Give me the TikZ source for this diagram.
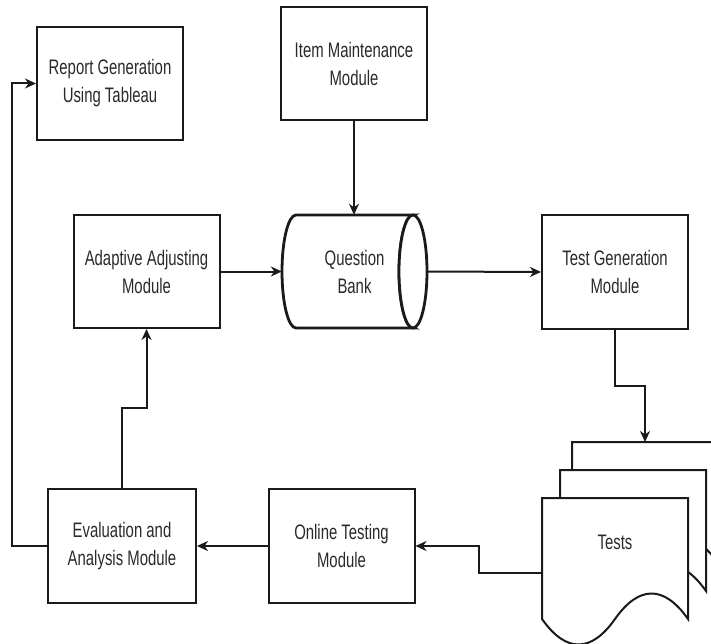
\documentclass[tikz,border=0pt]{standalone}
\usepackage{fontspec}
\setmainfont[FakeStretch=0.71]{Liberation Sans}
\usetikzlibrary{arrows.meta}
\definecolor{txt}{HTML}{2A2A2A}
\definecolor{ln}{HTML}{1A1A1A}
\tikzset{
  box/.style={draw=ln, line width=2pt, fill=white, rectangle, minimum width=146pt, minimum height=113pt,
     align=center, text=txt, font=\fontsize{21}{28}\selectfont},
  arr/.style={draw=ln, line width=2pt, -{Stealth[length=11pt,width=10pt,inset=3.5pt]}},
  docline/.style={draw=ln, line width=2pt, fill=white},
  cyl/.style={draw=ln, line width=2.8pt, fill=white},
  lbl/.style={align=center, text=txt, font=\fontsize{21}{28}\selectfont}
}
\newcommand\docpage[2]{%
  \filldraw[docline] (#1,#2) -- ++(146,0) -- ++(0,121)
    .. controls +(-24,-34) and +(24,-34) .. ++(-73,0)
    .. controls +(-24,34) and +(24,34) .. ++(-73,0) -- cycle;}
\begin{document}
\begin{tikzpicture}[x=1pt,y=-1pt]
\useasboundingbox (0,0) rectangle (711,644);
\clip (0,0) rectangle (711,644);
\fill[white] (0,0) rectangle (711,644);

% boxes
\node[box] (report) at (110,83.5) {Report Generation\\Using Tableau};
\node[box] (item)   at (354,64)   {Item Maintenance\\Module};
\node[box] (adapt)  at (146.5,271.5) {Adaptive Adjusting\\Module};
\node[box] (tg)     at (615,272)  {Test Generation\\Module};
\node[box, minimum width=148pt, minimum height=114pt] (eval) at (122,546) {Evaluation and\\Analysis Module};
\node[box, minimum height=114pt] (online) at (341.5,546) {Online Testing\\Module};

% cylinder (Question Bank)
\filldraw[cyl] (296,215) -- (413,215) arc[start angle=270, end angle=90, x radius=14, y radius=56.5]
   -- (296,328) arc[start angle=90, end angle=270, x radius=14, y radius=56.5] -- cycle;
\draw[cyl] (413,271.5) ellipse[x radius=14, y radius=56.5];
\node[lbl, minimum width=145pt, minimum height=113pt, inner sep=0pt] (qb) at (354.5,271.5) {Question\\Bank};

% tests (multi-document)
\docpage{572}{442}
\docpage{560}{470}
\docpage{542}{498}
\coordinate (t3top) at (645,442);
\coordinate (t1left) at (542,573);
\node[lbl] (tests) at (615,542) {Tests};

% connectors
\draw[arr] (item.south) -- (item.south |- qb.north);
\draw[arr] (adapt.east) -- (qb.west);
\draw[arr] (qb.east) -- (tg.west);
\draw[arr] (tg.south) -- ++(0,56) -| (t3top);
\draw[arr] (t1left) -- ++(-63,0) |- (online.east);
\draw[arr] (online.west) -- (eval.east);
\draw[arr] (eval.north) -- ++(0,-80) -| (adapt.south);
\draw[arr] (eval.west) -- ++(-35,0) |- (report.west);
\end{tikzpicture}
\end{document}
